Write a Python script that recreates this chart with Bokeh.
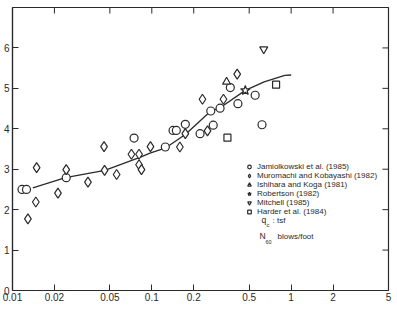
from bokeh.plotting import figure
from bokeh.models import FixedTicker, Legend, LegendItem, Label, Range1d
from bokeh.embed import file_html
from bokeh.resources import INLINE

# ---- data ----
jam_x = [0.0117, 0.0126, 0.0243, 0.0746, 0.125, 0.142, 0.150, 0.174, 0.222,
         0.265, 0.276, 0.309, 0.366, 0.415, 0.552, 0.618]
jam_y = [2.50, 2.50, 2.79, 3.77, 3.55, 3.96, 3.96, 4.11, 3.88,
         4.44, 4.09, 4.51, 5.02, 4.62, 4.83, 4.10]

mur_x = [0.0129, 0.0149, 0.0147, 0.0212, 0.0243, 0.0348, 0.0454, 0.0458, 0.0559,
         0.0714, 0.081, 0.081, 0.0843, 0.0978, 0.159, 0.174, 0.251, 0.231, 0.327, 0.41]
mur_y = [1.77, 3.04, 2.19, 2.41, 2.99, 2.68, 3.56, 2.97, 2.87,
         3.37, 3.37, 3.11, 2.99, 3.56, 3.55, 3.88, 3.95, 4.73, 4.73, 5.35]

ish_x = [0.344]
ish_y = [5.16]

rob_x = [0.469]
rob_y = [4.95]

mit_x = [0.636]
mit_y = [5.97]

har_x = [0.349, 0.78]
har_y = [3.78, 5.09]

curve_x = [0.014, 0.024, 0.046, 0.083, 0.097, 0.126, 0.174, 0.265, 0.309, 0.469, 0.64, 0.9, 1.0]
curve_y = [2.54, 2.79, 2.97, 3.30, 3.40, 3.53, 3.86, 4.44, 4.52, 4.95, 5.16, 5.32, 5.33]

x_ticks = [0.01, 0.02, 0.05, 0.1, 0.2, 0.5, 1, 2, 5]
x_tick_labels = ["0.01", "0.02", "0.05", "0.1", "0.2", "0.5", "1", "2", "5"]
y_ticks = [0, 1, 2, 3, 4, 5, 6]

series_labels = ["Jamiolkowski et al. (1985)", "Muromachi and Kobayashi (1982)",
                 "Ishihara and Koga (1981)", "Robertson (1982)", "Mitchell (1985)",
                 "Harder et al. (1984)"]

INK = "#2a2a2a"
FONT = "Liberation Sans"
X_MIN, X_MAX, Y_MIN, Y_MAX = 0.01, 5, 0, 7

p = figure(width=397, height=311, x_axis_type="log", output_backend="svg",
           toolbar_location=None, x_range=Range1d(X_MIN, X_MAX), y_range=Range1d(Y_MIN, Y_MAX),
           min_border_left=12, min_border_right=9, min_border_top=7, min_border_bottom=21)
p.xgrid.visible = False
p.ygrid.visible = False
p.outline_line_color = INK
p.outline_line_width = 1.2
p.background_fill_color = "white"
p.border_fill_color = "white"

# bottom axis
xa = p.xaxis[0]
xa.ticker = FixedTicker(ticks=x_ticks)
xa.major_label_overrides = {t: l for t, l in zip(x_ticks, x_tick_labels)}
xa.minor_tick_line_color = None
xa.major_tick_in = 6
xa.major_tick_out = 0
xa.major_label_standoff = 2
xa.major_label_text_font = FONT
xa.major_label_text_font_size = "10px"
xa.major_label_text_color = INK
xa.axis_line_color = INK
xa.major_tick_line_color = INK
xa.axis_line_width = 1.2

ya = p.yaxis[0]
ya.ticker = FixedTicker(ticks=y_ticks)
ya.minor_tick_line_color = None
ya.major_tick_in = 6
ya.major_tick_out = 0
ya.major_label_standoff = 3
ya.major_label_text_font = FONT
ya.major_label_text_font_size = "10px"
ya.major_label_text_color = INK
ya.axis_line_color = INK
ya.major_tick_line_color = INK
ya.axis_line_width = 1.2

# inward ticks on the top and right edges (no labels)
top_t = x_ticks[1:-1]
p.segment(x0=top_t, y0=[Y_MAX] * len(top_t), x1=top_t, y1=[Y_MAX - 0.15] * len(top_t),
          line_color=INK, line_width=1)
right_t = y_ticks[1:]
p.segment(x0=[X_MAX] * len(right_t), y0=right_t, x1=[X_MAX / 1.105] * len(right_t), y1=right_t,
          line_color=INK, line_width=1)

# fitted curve
p.line(curve_x, curve_y, line_color=INK, line_width=1.3)

common = dict(fill_color="white", line_color=INK, line_width=1.2)
r1 = p.scatter(jam_x, jam_y, marker="circle", size=8, **common)
r2 = p.scatter(mur_x, mur_y, marker="diamond", size=10, **common)
r3 = p.scatter(ish_x, ish_y, marker="triangle", size=8, **common)
r4 = p.scatter(rob_x, rob_y, marker="star", size=10, **common)
r5 = p.scatter(mit_x, mit_y, marker="inverted_triangle", size=8, **common)
r6 = p.scatter(har_x, har_y, marker="square", size=7, **common)

legend = Legend(items=[LegendItem(label=l, renderers=[r]) for l, r in
                       zip(series_labels, [r1, r2, r3, r4, r5, r6])],
                location=(232, 74), label_text_font=FONT, label_text_font_size="8px",
                label_text_color=INK, label_height=9, glyph_height=9, glyph_width=10,
                label_standoff=3, spacing=0, padding=0, margin=0,
                border_line_color=None, background_fill_alpha=0)
p.add_layout(legend)

# unit notes (screen units, measured from the frame's lower-left corner)
for txt, x, y, fs in [("q", 261, 224, "8.5px"), ("c", 266, 227, "6px"), (":  tsf", 272, 224, "8px"),
                      ("N", 259, 240, "8.5px"), ("60", 265, 243, "5.5px"), ("blows/foot", 277, 240, "8px")]:
    p.add_layout(Label(x=x - 12, y=290 - y, x_units="screen", y_units="screen", text=txt,
                       text_font=FONT, text_font_size=fs, text_color=INK))

open("out.html", "w").write(file_html(p, INLINE))
